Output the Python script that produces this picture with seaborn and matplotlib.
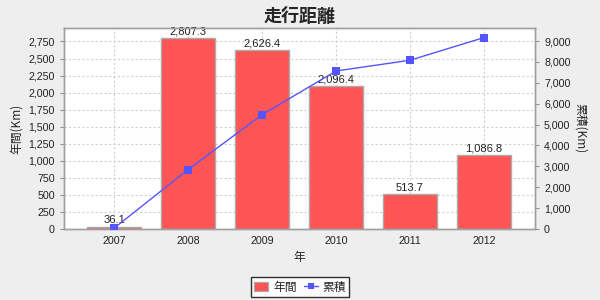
import matplotlib
matplotlib.use("Agg")
import matplotlib.pyplot as plt
import seaborn as sns
import pandas as pd
from matplotlib.ticker import MultipleLocator, FuncFormatter
from matplotlib.patches import Patch
from matplotlib.lines import Line2D

years = ["2007", "2008", "2009", "2010", "2011", "2012"]
annual = [36.1, 2807.3, 2626.4, 2096.4, 513.7, 1086.8]
cumulative = [36.1, 2843.4, 5469.8, 7566.2, 8079.9, 9166.7]

df = pd.DataFrame({"year": years, "annual": annual, "cumulative": cumulative})

sns.set_style("white")
plt.rcParams['font.family'] = ['Liberation Sans', 'Noto Sans CJK JP', 'DejaVu Sans']
cjk = ['Noto Sans CJK JP', 'DejaVu Sans']

bar_color = "#FF5555"
line_color = "#5555FF"
bg = "#EEEEEE"

fig = plt.figure(figsize=(6, 3), dpi=100, facecolor=bg)
ax = fig.add_axes([64/600, 1-229/300, (535-64)/600, (229-28)/300])
ax.set_facecolor("white")

sns.barplot(data=df, x="year", y="annual", ax=ax, color=bar_color,
            edgecolor="#AAAAAA", linewidth=1.0, width=0.74, saturation=1, zorder=2)
ax.set_xlim(-0.676, 5.69)
ax.set_ylim(0, max(annual) * 1.05)
ax.yaxis.set_major_locator(MultipleLocator(250))
ax.yaxis.set_major_formatter(FuncFormatter(lambda v, p: f"{v:,.0f}"))
ax.grid(True, which="major", axis="both", color="#D0D0D0", linestyle=(0, (2, 2)), linewidth=0.8, zorder=0)
ax.set_axisbelow(True)

for c in ax.containers:
    ax.bar_label(c, labels=[f"{v:,.1f}" for v in annual], padding=1, fontsize=8, color="#222222")

ax2 = ax.twinx()
sns.lineplot(data=df, x="year", y="cumulative", ax=ax2, color=line_color, marker="s",
             markersize=6, markeredgewidth=0, linewidth=1.0, zorder=3)
ax2.set_ylim(0, max(cumulative) * 1.05)
ax2.yaxis.set_major_locator(MultipleLocator(1000))
ax2.yaxis.set_major_formatter(FuncFormatter(lambda v, p: f"{v:,.0f}"))
ax2.set_xlim(-0.676, 5.69)

for a in (ax, ax2):
    for s in a.spines.values():
        s.set_color("#A0A0A0")
        s.set_linewidth(1.0)
    a.tick_params(axis="both", labelsize=7.7, colors="#222222", length=3, width=0.8, direction="out")
    a.tick_params(axis="both", color="#909090")

ax.set_xlabel("年", fontsize=8.5, family=cjk, labelpad=4)
ax.set_ylabel("年間(Km)", fontsize=8.5, family=cjk, labelpad=4)
ax2.set_ylabel("累積(Km)", fontsize=8.5, family=cjk, rotation=-90, labelpad=12)
ax.tick_params(axis="x", length=0, pad=5)

fig.text(0.5, 1-17/300, "走行距離", ha="center", va="center", fontsize=13, fontweight="bold", family=cjk)

handles = [Patch(facecolor=bar_color, edgecolor="#AAAAAA", linewidth=0.8),
           Line2D([0], [0], color=line_color, marker="s", markersize=5, markeredgewidth=0, linewidth=1.0)]
leg = fig.legend(handles, ["年間", "累積"], loc="center", bbox_to_anchor=(0.5, 1-287/300),
                 ncol=2, frameon=True, fancybox=False, edgecolor="black",
                 prop={"family": cjk, "size": 8.5}, handlelength=1.2, handletextpad=0.4,
                 columnspacing=0.6, borderpad=0.3, handleheight=0.8)
leg.get_frame().set_linewidth(1.0)
leg.get_frame().set_facecolor("white")

fig.savefig("out.png", dpi=100, facecolor=bg)
